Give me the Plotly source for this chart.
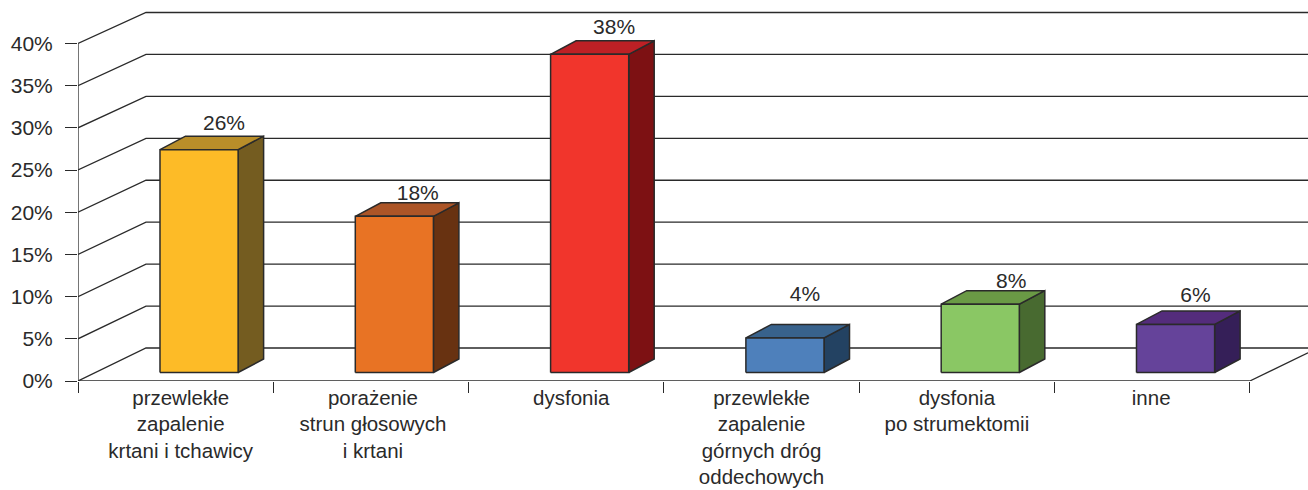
import plotly.graph_objects as go

CATEGORIES = ["przewlekłe<br>zapalenie<br>krtani i tchawicy",
              "porażenie<br>strun głosowych<br>i krtani",
              "dysfonia",
              "przewlekłe<br>zapalenie<br>górnych dróg<br>oddechowych",
              "dysfonia<br>po strumektomii",
              "inne"]
VALUES = [26.4, 18.5, 37.7, 4.1, 8.1, 5.7]
VALUE_LABELS = ["26%", "18%", "38%", "4%", "8%", "6%"]
Y_TICKS = [0, 5, 10, 15, 20, 25, 30, 35, 40]
Y_TICK_LABELS = ["0%", "5%", "10%", "15%", "20%", "25%", "30%", "35%", "40%"]

FRONT = ["#FDBB27", "#E87324", "#F1352C", "#4E80BB", "#8AC764", "#65439A"]
TOP = ["#B98E29", "#AC5527", "#BD2025", "#38628C", "#6A9A45", "#542C7C"]
SIDE = ["#745C20", "#683211", "#7D1113", "#234262", "#486A30", "#351F58"]

W, H = 1308, 490
ML, MB = 78, 109
PX_X = 195.3      # px per category
PX_Y = 8.44       # px per percent
INK = "#2a2a2a"
FONT = "Liberation Sans"

xmax = (W - ML) / PX_X
ymax = (H - MB) / PX_Y
def dx(px): return px / PX_X
def dy(px): return px / PX_Y

BACK_X, BACK_Y = dx(68), dy(33)
BACK_SCALE = 0.9938
BAR_LEFT, BAR_W = 0.4224 - dx(0.5), 0.4
BAR_BASE = dy(8.5)
DEPTH_X, DEPTH_Y = dx(25.5), dy(13.5)
# offsets of the value labels from the bar's top-left front corner (px)
LABEL_NUDGE = [(64, 25), (62.5, 22), (63.5, 26), (59, 42), (70, 21), (59, 28)]
# small horizontal offsets of the category labels (px)
CATEGORY_NUDGE = [5, 2, 5, 0, 0, -1]

fig = go.Figure()

def line(xs, ys, width=1.3):
    fig.add_trace(go.Scatter(x=xs, y=ys, mode="lines", cliponaxis=False,
                             line=dict(color=INK, width=width),
                             hoverinfo="skip", showlegend=False))

def poly(xs, ys, color):
    fig.add_trace(go.Scatter(x=xs, y=ys, mode="lines", fill="toself", fillcolor=color,
                             cliponaxis=False, line=dict(color=INK, width=1.5),
                             hoverinfo="skip", showlegend=False))

# wall and floor lines
for v in Y_TICKS:
    back = v * BACK_SCALE + BACK_Y
    line([0, BACK_X, xmax], [v, back, back])
line([0, 0], [40, -dy(11)])                     # value axis
line([-dx(12), 6], [0, 0])                      # category axis
edge = xmax - 6
line([6, xmax], [0, BACK_Y * edge / BACK_X])    # floor's right edge

# bars
label_x, label_y = [], []
for i, v in enumerate(VALUES):
    x0 = i + BAR_LEFT
    x1 = x0 + BAR_W
    y0 = BAR_BASE
    y1 = BAR_BASE + v
    poly([x1, x1 + DEPTH_X, x1 + DEPTH_X, x1, x1],
         [y0, y0 + DEPTH_Y, y1 + DEPTH_Y, y1, y0], SIDE[i])
    poly([x0, x0 + DEPTH_X, x1 + DEPTH_X, x1, x0],
         [y1, y1 + DEPTH_Y, y1 + DEPTH_Y, y1, y1], TOP[i])
    poly([x0, x1, x1, x0, x0], [y0, y0, y1, y1, y0], FRONT[i])
    label_x.append(x0 + dx(LABEL_NUDGE[i][0]))
    label_y.append(y1 + dy(LABEL_NUDGE[i][1]))

fig.add_trace(go.Scatter(x=label_x, y=label_y, mode="text", text=VALUE_LABELS,
                         textposition="middle center", cliponaxis=False,
                         textfont=dict(family=FONT, size=21, color=INK),
                         hoverinfo="skip", showlegend=False))

fig.update_layout(
    width=W, height=H, showlegend=False,
    margin=dict(l=ML, r=0, t=0, b=MB, pad=0),
    paper_bgcolor="white", plot_bgcolor="white",
    xaxis=dict(range=[0, xmax], showgrid=False, zeroline=False, showline=False,
               automargin=False,
               tickmode="array",
               tickvals=[i + 0.5 + dx(n) for i, n in enumerate(CATEGORY_NUDGE)],
               ticktext=CATEGORIES, ticks="", tickangle=0,
               ticklabelstandoff=2,
               tickfont=dict(family=FONT, size=20.5, color=INK),
               minor=dict(tickmode="array", tickvals=list(range(7)), ticks="outside",
                          ticklen=11, tickwidth=1.3, tickcolor=INK, showgrid=False)),
    yaxis=dict(range=[0, ymax], showgrid=False, zeroline=False, showline=False,
               automargin=False,
               tickmode="array", tickvals=Y_TICKS, ticktext=Y_TICK_LABELS,
               ticks="outside", ticklen=12, tickwidth=1.3, tickcolor=INK,
               ticklabelstandoff=8,
               tickfont=dict(family=FONT, size=21, color=INK)),
)

fig.write_html("out.html", config={"displayModeBar": False},
               post_script="document.body.style.margin='0';"
                           "document.documentElement.style.overflow='hidden';")
